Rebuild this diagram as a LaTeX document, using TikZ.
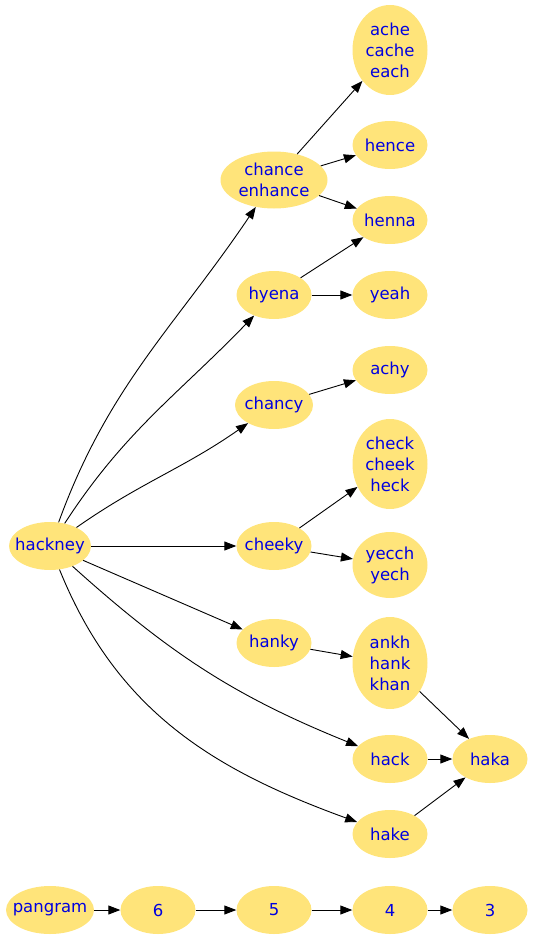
\documentclass[tikz,border=0pt]{standalone}
\usepackage{fontspec}
\setmainfont{DejaVu Sans}
\usetikzlibrary{shapes.geometric,arrows.meta}
\definecolor{nodefill}{HTML}{FFE47A}
\definecolor{nodetext}{HTML}{0000E0}
\newcommand{\zw}[1]{\makebox[0pt]{#1}}
\tikzset{
  word/.style={ellipse, fill=nodefill, text=nodetext, inner sep=0pt,
    minimum width=#1, minimum height=48pt, align=center,
    font=\fontsize{16.5}{21}\selectfont},
  word/.default=75pt,
  edge/.style={draw=black, line width=0.9pt, -{Triangle[length=12pt,width=9pt]}}
}
\begin{document}
\begin{tikzpicture}[x=1pt,y=1pt]
\useasboundingbox (0,0) rectangle (534,-939);
\node[word=82pt] (hackney) at (50,-546) {\zw{hackney}};
\node[word=107pt, minimum height=57pt] (chance) at (274,-180) {\zw{chance}\\\zw{enhance}};
\node[word] (hyena) at (274,-295) {\zw{hyena}};
\node[word=78pt] (chancy) at (274,-405) {\zw{chancy}};
\node[word] (cheeky) at (274,-546) {\zw{cheeky}};
\node[word] (hanky) at (274,-643) {\zw{hanky}};
\node[word, minimum height=90pt] (ache) at (390,-50) {\zw{ache}\\\zw{cache}\\\zw{each}};
\node[word] (hence) at (390,-145) {\zw{hence}};
\node[word] (henna) at (390,-220) {\zw{henna}};
\node[word] (yeah) at (390,-295) {\zw{yeah}};
\node[word] (achy) at (390,-370) {\zw{achy}};
\node[word, minimum height=90pt] (check) at (390,-464) {\zw{check}\\\zw{cheek}\\\zw{heck}};
\node[word, minimum height=66pt] (yecch) at (390,-565) {\zw{yecch}\\\zw{yech}};
\node[word, minimum height=92pt] (ankh) at (390,-663) {\zw{ankh}\\\zw{hank}\\\zw{khan}};
\node[word] (hack) at (390,-759) {\zw{hack}};
\node[word] (hake) at (390,-834) {\zw{hake}};
\node[word] (haka) at (490,-759) {\zw{haka}};
\node[word=88pt] (pangram) at (50,-910) {\zw{pangram}};
\node[word] (n6) at (158,-910) {\zw{6}};
\node[word] (n5) at (274,-910) {\zw{5}};
\node[word] (n4) at (390,-910) {\zw{4}};
\node[word] (n3) at (490,-910) {\zw{3}};

\draw[edge] (hackney) to[out=70,in=236] (chance);
\draw[edge] (hackney) to[out=57,in=226] (hyena);
\draw[edge] (hackney) to[out=35,in=215] (chancy);
\draw[edge] (hackney) -- (cheeky);
\draw[edge] (hackney) -- (hanky);
\draw[edge] (hackney) to[out=-42,in=158] (hack);
\draw[edge] (hackney) to[out=-68,in=160] (hake);
\draw[edge] (chance) -- (ache);
\draw[edge] (chance) -- (hence);
\draw[edge] (chance) -- (henna);
\draw[edge] (hyena) -- (henna);
\draw[edge] (hyena) -- (yeah);
\draw[edge] (chancy) -- (achy);
\draw[edge] (cheeky) -- (check);
\draw[edge] (cheeky) -- (yecch);
\draw[edge] (hanky) -- (ankh);
\draw[edge] (ankh) -- (haka);
\draw[edge] (hack) -- (haka);
\draw[edge] (hake) -- (haka);
\draw[edge] (pangram) -- (n6);
\draw[edge] (n6) -- (n5);
\draw[edge] (n5) -- (n4);
\draw[edge] (n4) -- (n3);
\end{tikzpicture}
\end{document}
